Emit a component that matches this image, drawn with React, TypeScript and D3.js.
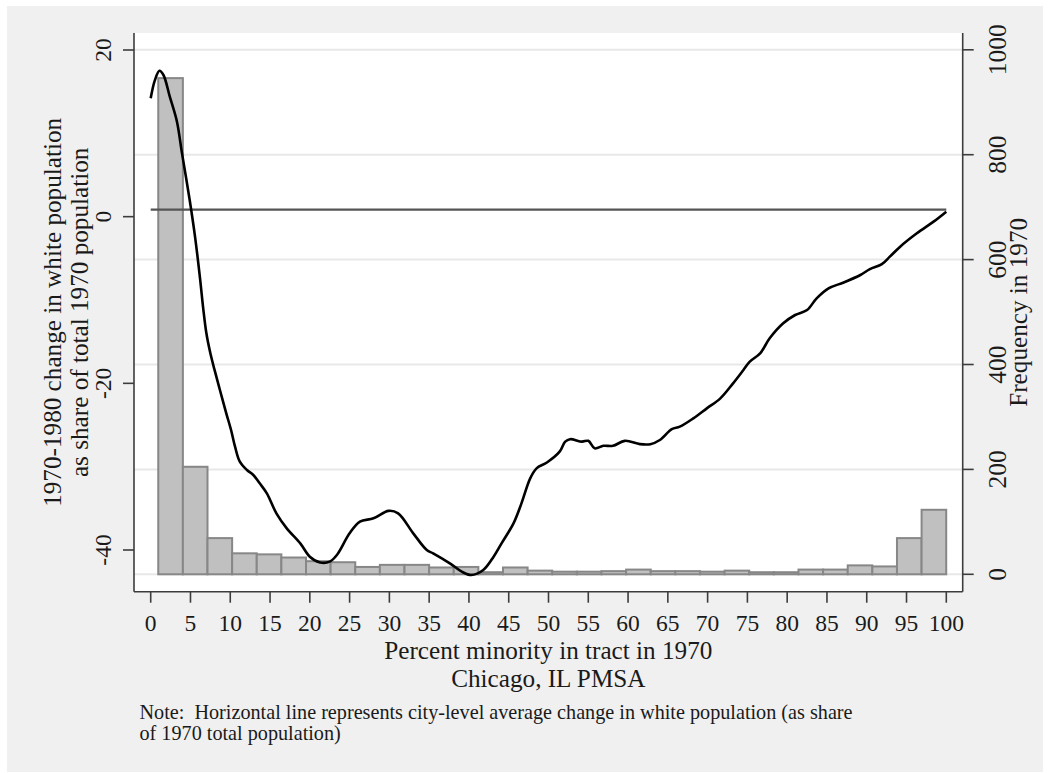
import React from "react";
import * as d3 from "d3";

// Tick values
const xTickValues = [0, 5, 10, 15, 20, 25, 30, 35, 40, 45, 50, 55, 60, 65, 70, 75, 80, 85, 90, 95, 100];
const leftTickValues = [20, 0, -20, -40];
const rightTickValues = [0, 200, 400, 600, 800, 1000];

// Histogram of tracts by percent minority (32 bins)
const binStart = 0.95;
const binWidth = 3.095;
const binCounts = [
  946, 205, 69, 40, 38, 32, 25, 23, 14, 18, 18, 13, 14, 4, 13, 7,
  5, 5, 6, 9, 6, 6, 5, 7, 4, 4, 9, 9, 17, 15, 69, 123,
];

// City-level average change in white population
const cityAverage = 0.85;

// Smoothed change in white population vs. percent minority
const smoothPctMinority = [
  0, 0.5, 1.1, 1.6, 2.4, 3.3, 3.9, 4.9, 5.6, 6.2, 6.6, 7.0, 7.5, 8.0, 8.7, 9.5,
  10.1, 10.6, 11.2, 12.1, 12.9, 13.7, 14.6, 15.8, 17.1, 18.8, 20.0, 21.3, 22.5,
  23.4, 25.0, 26.3, 28.0, 29.9, 31.1, 33.0, 34.7, 35.5, 37.6, 39.1, 40.3, 41.8,
  43.1, 44.1, 45.6, 46.6, 47.7, 48.5, 49.8, 51.4, 52.1, 52.7, 54.2, 55.0, 55.8,
  56.9, 58.1, 59.6, 61.5, 62.8, 64.0, 65.5, 66.5, 68.2, 69.9, 71.6, 73.2, 74.5,
  75.3, 76.6, 77.8, 79.5, 81.0, 82.5, 83.7, 85.2, 87.1, 89.2, 90.4, 91.9, 92.9,
  94.2, 96.3, 98.4, 100,
];
const smoothChange = [
  14.2, 16.3, 17.5, 17.0, 14.4, 11.4, 7.8, 2.0, -2.6, -7.4, -11.0, -14.0, -16.4,
  -18.3, -20.8, -23.6, -25.6, -27.6, -29.4, -30.4, -31.0, -32.0, -33.2, -35.6,
  -37.4, -39.2, -40.8, -41.5, -41.4, -40.6, -38.0, -36.6, -36.2, -35.3, -35.6,
  -38.0, -40.0, -40.4, -41.6, -42.6, -43.0, -42.4, -40.8, -39.2, -36.8, -34.4,
  -31.4, -30.2, -29.5, -28.2, -27.0, -26.7, -27.0, -26.9, -27.8, -27.5, -27.5,
  -26.9, -27.3, -27.3, -26.8, -25.5, -25.2, -24.2, -23.0, -21.8, -20.0, -18.4,
  -17.4, -16.4, -14.6, -12.8, -11.8, -11.2, -9.8, -8.6, -7.9, -7.0, -6.3, -5.7,
  -4.8, -3.6, -2.0, -0.6, 0.6,
];

const W = 1050;
const H = 773;
const plot = { left: 134, right: 962.7, top: 33, bottom: 591.7 };

const FONT = "'Liberation Serif', 'Times New Roman', serif";
const TEXT = "#1a1a1a";
const AXIS = "#3c3c3c";

export default function App() {
  const x = d3.scaleLinear().domain([0, 100]).range([150.7, 946.3]);
  const yLeft = d3.scaleLinear().domain([-40, 20]).range([550, 50]);
  const yRight = d3.scaleLinear().domain([0, 1000]).range([574.3, 49.8]);

  const smoothPts: [number, number][] = smoothPctMinority.map((p, i) => [p, smoothChange[i]]);
  const line = d3
    .line<[number, number]>()
    .x((d) => x(d[0]))
    .y((d) => yLeft(d[1]))
    .curve(d3.curveCatmullRom.alpha(0.5));

  const cx = (plot.left + plot.right) / 2;
  const cy = (plot.top + plot.bottom) / 2;

  return (
    <svg
      width={W}
      height={H}
      style={{ position: "absolute", left: 0, top: 0, display: "block" }}
      fontFamily={FONT}
    >
      <rect x={0} y={0} width={W} height={H} fill="#ffffff" />
      <rect x={7} y={6} width={1036} height={766} fill="#f0f0f0" />
      <rect
        x={plot.left}
        y={plot.top}
        width={plot.right - plot.left}
        height={plot.bottom - plot.top}
        fill="#ffffff"
      />

      {/* gridlines from the frequency axis */}
      {rightTickValues.map((t) => (
        <line
          key={"g" + t}
          x1={plot.left}
          x2={plot.right}
          y1={yRight(t)}
          y2={yRight(t)}
          stroke="#e8e8e8"
          strokeWidth={2}
        />
      ))}

      {/* histogram */}
      {binCounts.map((c, i) => {
        const x0 = binStart + i * binWidth;
        const x1 = x0 + binWidth;
        return (
          <rect
            key={"b" + i}
            x={x(x0)}
            y={yRight(c)}
            width={x(x1) - x(x0)}
            height={yRight(0) - yRight(c)}
            fill="#c0c0c0"
            stroke="#878787"
            strokeWidth={2}
          />
        );
      })}

      {/* city average */}
      <line
        x1={x(0)}
        x2={x(100)}
        y1={yLeft(cityAverage)}
        y2={yLeft(cityAverage)}
        stroke="#555555"
        strokeWidth={2.2}
      />

      {/* smoothed curve */}
      <path d={line(smoothPts) || ""} fill="none" stroke="#000000" strokeWidth={2.6} strokeLinejoin="round" />

      {/* axes */}
      <line x1={plot.left} x2={plot.left} y1={plot.top} y2={plot.bottom} stroke={AXIS} strokeWidth={1.6} />
      <line x1={plot.right} x2={plot.right} y1={plot.top} y2={plot.bottom} stroke={AXIS} strokeWidth={1.6} />
      <line x1={plot.left} x2={plot.right} y1={plot.bottom} y2={plot.bottom} stroke={AXIS} strokeWidth={1.6} />

      {/* x axis ticks */}
      {xTickValues.map((t) => (
        <g key={"x" + t}>
          <line x1={x(t)} x2={x(t)} y1={plot.bottom} y2={plot.bottom + 11} stroke={AXIS} strokeWidth={1.6} />
          <text x={x(t)} y={631} textAnchor="middle" fontSize={23.5} fill={TEXT}>
            {t}
          </text>
        </g>
      ))}

      {/* left axis ticks */}
      {leftTickValues.map((t) => (
        <g key={"l" + t}>
          <line x1={plot.left - 11} x2={plot.left} y1={yLeft(t)} y2={yLeft(t)} stroke={AXIS} strokeWidth={1.6} />
          <text
            transform={`translate(110.5,${yLeft(t)}) rotate(-90)`}
            textAnchor="middle"
            fontSize={23.5}
            fill={TEXT}
          >
            {t}
          </text>
        </g>
      ))}

      {/* right axis ticks */}
      {rightTickValues.map((t) => (
        <g key={"r" + t}>
          <line x1={plot.right} x2={plot.right + 11} y1={yRight(t)} y2={yRight(t)} stroke={AXIS} strokeWidth={1.6} />
          <text
            transform={`translate(1006,${yRight(t)}) rotate(-90)`}
            textAnchor="middle"
            fontSize={25.5}
            fill={TEXT}
          >
            {t}
          </text>
        </g>
      ))}

      {/* axis titles */}
      <text transform={`translate(61,${cy}) rotate(-90)`} textAnchor="middle" fontSize={25.2} fill={TEXT}>
        1970-1980 change in white population
      </text>
      <text transform={`translate(88.3,${cy}) rotate(-90)`} textAnchor="middle" fontSize={25.2} fill={TEXT}>
        as share of total 1970 population
      </text>
      <text transform={`translate(1027.3,${cy}) rotate(-90)`} textAnchor="middle" fontSize={25.2} fill={TEXT}>
        Frequency in 1970
      </text>
      <text x={cx} y={659} textAnchor="middle" fontSize={25.2} fill={TEXT}>
        Percent minority in tract in 1970
      </text>
      <text x={cx} y={687} textAnchor="middle" fontSize={25.2} fill={TEXT}>
        Chicago, IL PMSA
      </text>

      {/* note */}
      <text x={139.5} y={719} fontSize={20.2} fill={TEXT} style={{ whiteSpace: "pre" }}>
        {"Note:  Horizontal line represents city-level average change in white population (as share"}
      </text>
      <text x={139.5} y={740} fontSize={20.2} fill={TEXT}>
        of 1970 total population)
      </text>
    </svg>
  );
}
